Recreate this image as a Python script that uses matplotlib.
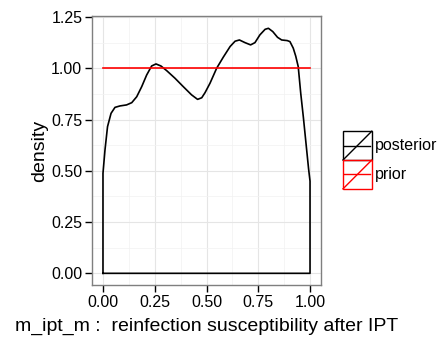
import matplotlib
matplotlib.use("Agg")
import matplotlib.pyplot as plt
from matplotlib.legend_handler import HandlerBase
from matplotlib.lines import Line2D
from matplotlib.patches import Rectangle

plt.rcParams['font.family'] = ['Liberation Sans', 'DejaVu Sans']

# posterior density
post_x = [0.0, 0.0097, 0.022, 0.039, 0.058, 0.082, 0.114, 0.139, 0.163, 0.187, 0.211,
          0.235, 0.256, 0.28, 0.308, 0.348, 0.388, 0.428, 0.457, 0.477, 0.493, 0.517,
          0.549, 0.581, 0.614, 0.638, 0.659, 0.686, 0.713, 0.734, 0.758, 0.783, 0.799,
          0.82, 0.843, 0.863, 0.89, 0.903, 0.919, 0.931, 0.943, 0.955, 0.968, 0.981,
          0.993, 1.0]
post_y = [0.488, 0.602, 0.716, 0.781, 0.81, 0.817, 0.822, 0.833, 0.862, 0.911, 0.968,
          1.012, 1.022, 1.012, 0.989, 0.952, 0.911, 0.871, 0.849, 0.857, 0.882, 0.928,
          1.001, 1.055, 1.107, 1.133, 1.139, 1.126, 1.115, 1.126, 1.164, 1.191, 1.196,
          1.18, 1.152, 1.139, 1.136, 1.131, 1.099, 1.06, 1.009, 0.88, 0.76, 0.63,
          0.51, 0.45]
# uniform prior
prior_x = [0.0, 1.0]
prior_y = [1.0, 1.0]

xticks = [0.0, 0.25, 0.5, 0.75, 1.0]
yticks = [0.0, 0.25, 0.5, 0.75, 1.0, 1.25]


class KeyHandler(HandlerBase):
    # ggplot style key: outlined box, slash, and a horizontal line
    def create_artists(self, legend, orig, xd, yd, w, h, fontsize, trans):
        c = orig.get_color()
        s = min(w, h)
        x0 = -xd
        y0 = -yd + (h - s) / 2
        box = Rectangle((x0, y0), s, s, fill=False, edgecolor=c, lw=1.0, transform=trans)
        diag = Line2D([x0, x0 + s], [y0, y0 + s], color=c, lw=1.0, transform=trans)
        hor = Line2D([x0 + 0.05 * s, x0 + 0.92 * s], [y0 + s / 2, y0 + s / 2], color=c, lw=1.0, transform=trans)
        return [box, diag, hor]


fig = plt.figure(figsize=(4.46, 3.39), dpi=100)
ax = fig.add_axes([92 / 446, 54 / 339, 229 / 446, 269 / 339])

px = [0.0] + post_x + [1.0, 0.0]
py = [0.0] + post_y + [0.0, 0.0]
l1, = ax.plot(px, py, color='black', lw=1.2, label='posterior')
l2, = ax.plot(prior_x, prior_y, color='red', lw=1.2, label='prior')

ax.set_xlim(-0.053, 1.053)
ax.set_ylim(-0.057, 1.256)
ax.set_xticks(xticks)
ax.set_xticklabels(['%.2f' % v for v in xticks])
ax.set_yticks(yticks)
ax.set_yticklabels(['%.2f' % v for v in yticks])
ax.set_xticks([0.125, 0.375, 0.625, 0.875], minor=True)
ax.set_yticks([0.125, 0.375, 0.625, 0.875, 1.125], minor=True)
ax.grid(which='major', color='#e5e5e5', lw=0.8)
ax.grid(which='minor', color='#f2f2f2', lw=0.5)
ax.set_axisbelow(True)
ax.tick_params(which='major', length=5, width=1, color='black', labelsize=11.5, labelcolor='black', pad=2)
ax.tick_params(which='minor', length=0)
for sp in ax.spines.values():
    sp.set_color('#7f7f7f')
    sp.set_linewidth(1.0)

ax.set_xlabel('m_ipt_m :  reinfection susceptibility after IPT', fontsize=14, labelpad=6)
ax.set_ylabel('density', fontsize=14, labelpad=2)

fig.legend(handles=[l1, l2], labels=['posterior', 'prior'], loc='center left',
           bbox_to_anchor=(343 / 446, 1 - 160 / 339), frameon=False, fontsize=11.5,
           handler_map={Line2D: KeyHandler()}, handlelength=1.85, handleheight=2.4,
           handletextpad=0.15, labelspacing=0.0, borderaxespad=0, borderpad=0)

fig.savefig('out.png', dpi=100)
